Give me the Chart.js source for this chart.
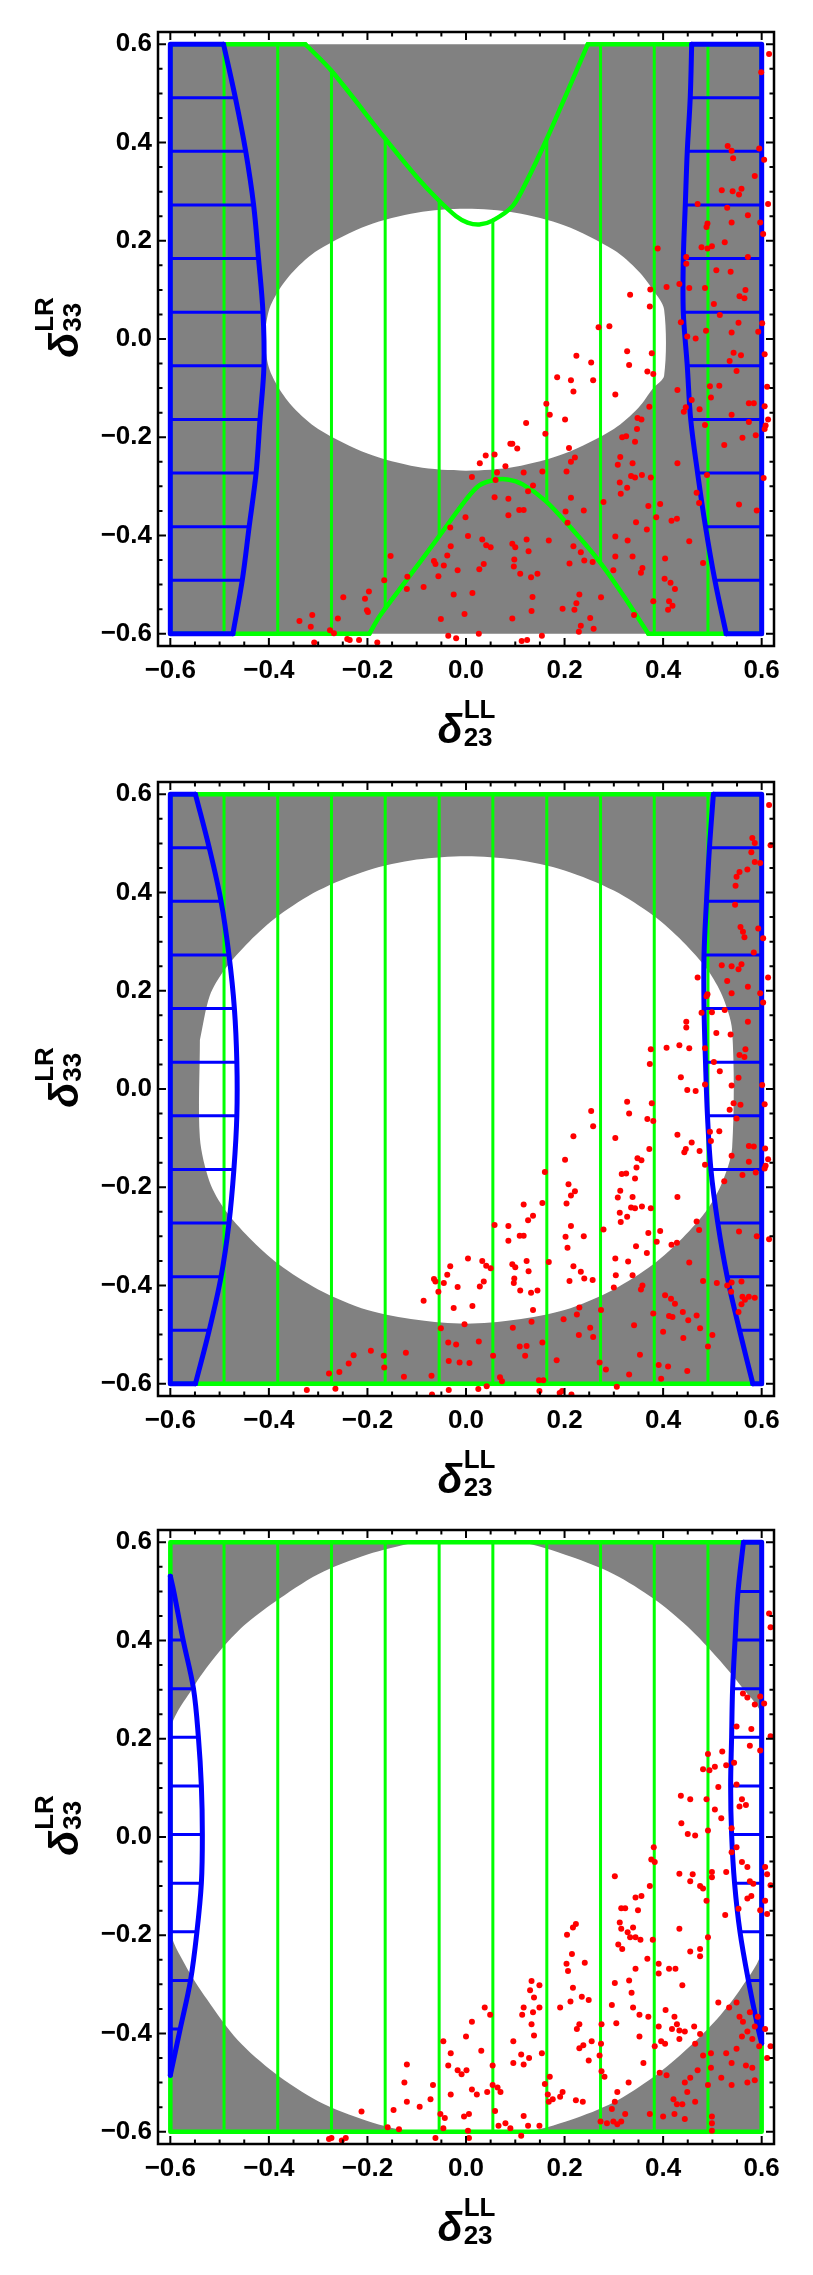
<!DOCTYPE html>
<html>
<head>
<meta charset="utf-8">
<script src="https://cdn.jsdelivr.net/npm/chart.js@4.4.0/dist/chart.umd.min.js"></script>
<style>
html, body { margin: 0; padding: 0; background: #fff; }
canvas { display: block; }
</style>
</head>
<body>
<canvas id="c1" width="813" height="750"></canvas>
<canvas id="c2" width="813" height="748"></canvas>
<canvas id="c3" width="813" height="777"></canvas>
<script>
// tick labels (both axes)
const xTicks = [-0.6, -0.4, -0.2, 0, 0.2, 0.4, 0.6];
const yTicks = [-0.6, -0.4, -0.2, 0, 0.2, 0.4, 0.6];

// mesh lines of the green region (x positions)
const meshX = [-0.491, -0.382, -0.273, -0.164, -0.0545, 0.0545, 0.164, 0.273, 0.382, 0.491];

const square = [[-0.6, -0.6], [-0.6, 0.6], [0.6, 0.6], [0.6, -0.6], [-0.6, -0.6]];

// ---------- panel 1 ----------
const p1MeshTop = [0.6, 0.6, 0.546, 0.408, 0.282, 0.243, 0.403, 0.6, 0.6, 0.6];
const p1MeshBot = [-0.6, -0.6, -0.6, -0.545, -0.402, -0.286, -0.331, -0.455, -0.6, -0.6];
const p1GreenV = [[-0.326, 0.6], [-0.273, 0.546], [-0.164, 0.408], [-0.1, 0.33], [-0.057, 0.284],
    [-0.02, 0.25], [0.003, 0.237], [0.027, 0.233], [0.054, 0.241], [0.095, 0.271], [0.125, 0.325], [0.162, 0.403],
    [0.2, 0.49], [0.247, 0.6]];
const p1GreenA = [[0.37, -0.6], [0.318, -0.52], [0.27, -0.452], [0.216, -0.388], [0.162, -0.33], [0.115, -0.296],
    [0.084, -0.286], [0.058, -0.287], [0.027, -0.298], [0.0, -0.327], [-0.057, -0.405], [-0.12, -0.49],
    [-0.175, -0.564], [-0.196, -0.6]];
const p1GreenEdges = [[-0.6, 0.6, -0.326, 0.6], [0.247, 0.6, 0.6, 0.6], [0.6, 0.6, 0.6, -0.6],
    [0.6, -0.6, 0.37, -0.6], [-0.196, -0.6, -0.6, -0.6], [-0.6, -0.6, -0.6, 0.6]];
const p1White = [[-0.41, 0], [-0.4, 0.058], [-0.38, 0.099], [-0.35, 0.138], [-0.3, 0.181], [-0.2, 0.231],
    [-0.1, 0.257], [0, 0.265], [0.1, 0.257], [0.2, 0.231], [0.3, 0.181], [0.35, 0.138], [0.38, 0.099],
    [0.402, 0.06], [0.402, -0.075], [0.38, -0.1], [0.35, -0.14], [0.3, -0.183], [0.2, -0.233], [0.1, -0.26],
    [0, -0.268], [-0.1, -0.26], [-0.2, -0.233], [-0.3, -0.183], [-0.35, -0.14], [-0.38, -0.1], [-0.4, -0.058],
    [-0.41, 0]];
const p1BlueL = [[-0.492, 0.6], [-0.468, 0.491], [-0.447, 0.382], [-0.431, 0.273], [-0.421, 0.164],
    [-0.412, 0.0545], [-0.41, -0.0545], [-0.418, -0.164], [-0.426, -0.273], [-0.44, -0.382], [-0.454, -0.491],
    [-0.473, -0.6]];
const p1BlueR = [[0.458, 0.6], [0.455, 0.491], [0.449, 0.382], [0.445, 0.273], [0.441, 0.164],
    [0.441, 0.0545], [0.449, -0.0545], [0.456, -0.164], [0.47, -0.273], [0.486, -0.382], [0.505, -0.491],
    [0.528, -0.6]];
const p1Pts = [
    [-0.338, -0.574], [-0.315, -0.586], [-0.312, -0.562], [-0.308, -0.618], [-0.276, -0.593], [-0.268, -0.599],
    [-0.26, -0.569], [-0.249, -0.526], [-0.241, -0.611], [-0.236, -0.613], [-0.217, -0.613], [-0.205, -0.529],
    [-0.197, -0.514], [-0.201, -0.552], [-0.199, -0.556], [-0.18, -0.618],
    [0.615, 0.58], [0.599, 0.543], [0.531, 0.393], [0.539, 0.383], [0.542, 0.368], [0.595, 0.388], [0.605, 0.365],
    [0.586, 0.332],
    [0.519, 0.303], [0.541, 0.301], [0.554, 0.294], [0.559, 0.306], [0.47, 0.275], [0.53, 0.267], [0.572, 0.252],
    [0.613, 0.275], [0.49, 0.235], [0.488, 0.228], [0.539, 0.237], [0.597, 0.237], [0.603, 0.214], [0.525, 0.197],
    [0.478, 0.187], [0.49, 0.184], [0.499, 0.189], [0.572, 0.167], [0.389, 0.184], [0.447, 0.167], [0.447, 0.153],
    [0.508, 0.14], [0.537, 0.137], [0.407, 0.106], [0.433, 0.112], [0.453, 0.104], [0.485, 0.104], [0.567, 0.1],
    [0.555, 0.087], [0.565, 0.083], [0.503, 0.071], [0.515, 0.049], [0.436, 0.034], [0.553, 0.033], [0.601, 0.032],
    [0.593, 0.015], [0.539, 0.013], [0.487, 0.017], [0.449, 0.005], [0.466, 0.001], [0.543, -0.028], [0.558, -0.033],
    [0.606, -0.031], [0.535, -0.045], [0.549, -0.065], [0.429, -0.104], [0.495, -0.096], [0.514, -0.095],
    [0.497, -0.119], [0.458, -0.124], [0.446, -0.139], [0.442, -0.148], [0.474, -0.143], [0.574, -0.131],
    [0.584, -0.131], [0.606, -0.137], [0.613, -0.164], [0.539, -0.154], [0.574, -0.169], [0.485, -0.175],
    [0.608, -0.176], [0.606, -0.183], [0.588, -0.196], [0.561, -0.201], [0.524, -0.216], [0.429, -0.253],
    [0.489, -0.277], [0.604, -0.283], [0.468, -0.313], [0.473, -0.334], [0.554, -0.337], [0.59, -0.349],
    [0.453, -0.412], [0.481, -0.456], [0.611, -0.097],
    [0.333, 0.09], [0.374, 0.101], [0.373, 0.066], [0.269, 0.024], [0.291, 0.026], [0.327, -0.025], [0.331, -0.053],
    [0.377, -0.029], [0.254, -0.048], [0.224, -0.034], [0.213, -0.084], [0.258, -0.084], [0.185, -0.078],
    [0.218, -0.107], [0.303, -0.113], [0.368, -0.066], [0.38, -0.071], [0.163, -0.132], [0.17, -0.154],
    [0.201, -0.164], [0.122, -0.171], [0.161, -0.193], [0.372, -0.138], [0.348, -0.161], [0.356, -0.164],
    [0.347, -0.183], [0.317, -0.2], [0.325, -0.198], [0.343, -0.209], [0.209, -0.222], [0.221, -0.241],
    [0.213, -0.25], [0.09, -0.213], [0.094, -0.213], [0.104, -0.223], [0.04, -0.237], [0.058, -0.235],
    [0.028, -0.253], [0.08, -0.259], [0.313, -0.24], [0.308, -0.256], [0.338, -0.253], [0.204, -0.27],
    [0.155, -0.27], [0.117, -0.272], [0.063, -0.272], [0.012, -0.281], [0.06, -0.287], [0.335, -0.279],
    [0.343, -0.282], [0.357, -0.277], [0.375, -0.282], [0.312, -0.292], [0.327, -0.303], [0.314, -0.315],
    [0.136, -0.298], [0.126, -0.31], [0.213, -0.323], [0.058, -0.322], [0.086, -0.325], [0.279, -0.332],
    [0.37, -0.34], [0.394, -0.336], [0.202, -0.351], [0.239, -0.349], [0.108, -0.348], [0.117, -0.348],
    [0.086, -0.359], [0.206, -0.374], [0.386, -0.363], [0.417, -0.37], [0.428, -0.366], [0.345, -0.373],
    [0.367, -0.388], [-0.001, -0.363], [-0.032, -0.384], [0.004, -0.401], [0.033, -0.408], [0.041, -0.42],
    [0.05, -0.424], [-0.031, -0.422], [0.094, -0.417], [0.1, -0.424], [0.123, -0.408], [0.168, -0.41],
    [0.218, -0.422], [0.233, -0.434], [0.127, -0.432], [0.303, -0.402], [0.328, -0.41], [-0.038, -0.441],
    [0.098, -0.449], [0.097, -0.463], [0.24, -0.451], [0.257, -0.454], [0.21, -0.457], [0.303, -0.443],
    [0.338, -0.443], [0.404, -0.447], [-0.065, -0.452], [-0.062, -0.458], [-0.045, -0.461], [0.036, -0.458],
    [-0.017, -0.471], [0.027, -0.469], [0.11, -0.478], [0.132, -0.485], [0.145, -0.478], [0.299, -0.471],
    [0.355, -0.476], [0.358, -0.466], [-0.056, -0.483], [-0.119, -0.484], [-0.166, -0.491], [-0.153, -0.442],
    [-0.12, -0.509], [-0.086, -0.505], [0.403, -0.488], [0.415, -0.496], [0.424, -0.509], [-0.025, -0.52],
    [0.013, -0.517], [0.135, -0.525], [0.23, -0.52], [0.274, -0.526], [0.412, -0.534], [0.38, -0.534],
    [0.419, -0.543], [0.41, -0.551], [0.224, -0.538], [0.22, -0.551], [0.196, -0.549], [0.133, -0.554],
    [-0.003, -0.56], [-0.051, -0.57], [0.094, -0.569], [0.252, -0.568], [0.341, -0.562], [0.233, -0.584],
    [0.229, -0.596], [0.259, -0.59], [-0.036, -0.604], [-0.02, -0.609], [0.026, -0.6], [0.113, -0.615],
    [0.124, -0.613], [0.154, -0.604]
];

// ---------- panel 2 ----------
const p2MeshTop = [0.6, 0.6, 0.6, 0.6, 0.6, 0.6, 0.6, 0.6, 0.6, 0.6];
const p2MeshBot = [-0.6, -0.6, -0.6, -0.6, -0.6, -0.6, -0.6, -0.6, -0.6, -0.6];
const p2White = [[-0.54, 0.1], [-0.52, 0.19], [-0.49, 0.243], [-0.44, 0.3], [-0.38, 0.353], [-0.3, 0.404],
    [-0.2, 0.445], [-0.1, 0.467], [0, 0.474], [0.1, 0.467], [0.2, 0.445], [0.3, 0.404], [0.38, 0.353],
    [0.44, 0.3], [0.49, 0.243], [0.52, 0.19], [0.54, 0.12], [0.54, -0.12], [0.52, -0.19], [0.49, -0.245],
    [0.44, -0.303], [0.38, -0.357], [0.3, -0.408], [0.2, -0.45], [0.1, -0.47], [0, -0.478], [-0.1, -0.47],
    [-0.2, -0.45], [-0.3, -0.408], [-0.38, -0.357], [-0.44, -0.303], [-0.49, -0.245], [-0.52, -0.19],
    [-0.54, -0.1], [-0.54, 0.1]];
const p2BlueL = [[-0.549, 0.6], [-0.521, 0.491], [-0.497, 0.382], [-0.481, 0.273], [-0.47, 0.164],
    [-0.465, 0.0545], [-0.465, -0.0545], [-0.471, -0.164], [-0.481, -0.273], [-0.497, -0.382], [-0.521, -0.491],
    [-0.549, -0.6]];
const p2BlueR = [[0.502, 0.6], [0.494, 0.491], [0.488, 0.382], [0.483, 0.273], [0.483, 0.164],
    [0.486, 0.0545], [0.49, -0.0545], [0.497, -0.164], [0.511, -0.273], [0.53, -0.382], [0.555, -0.491],
    [0.582, -0.6]];
const p2Pts = [
    [-0.278, -0.579], [-0.257, -0.576], [-0.265, -0.61], [-0.238, -0.559], [-0.228, -0.542], [-0.323, -0.613],
    [-0.193, -0.533],
    [0.615, 0.578], [0.581, 0.511], [0.586, 0.501], [0.618, 0.496], [0.579, 0.482], [0.586, 0.462], [0.555, 0.442],
    [0.571, 0.447], [0.597, 0.46], [0.549, 0.432], [0.547, 0.414],
    [0.546, 0.375], [0.557, 0.33], [0.562, 0.32], [0.565, 0.309], [0.593, 0.327], [0.603, 0.307], [0.584, 0.278],
    [0.519, 0.252], [0.539, 0.25], [0.553, 0.244], [0.559, 0.254], [0.53, 0.22], [0.572, 0.208], [0.539, 0.195],
    [0.597, 0.195], [0.603, 0.176], [0.613, 0.227], [0.47, 0.227], [0.49, 0.193], [0.488, 0.189], [0.478, 0.155],
    [0.499, 0.156], [0.525, 0.161], [0.572, 0.137], [0.447, 0.137], [0.447, 0.125], [0.508, 0.114], [0.537, 0.111],
    [0.407, 0.084], [0.433, 0.089], [0.453, 0.083], [0.485, 0.083], [0.567, 0.081], [0.555, 0.069], [0.565, 0.065],
    [0.375, 0.081], [0.373, 0.051], [0.503, 0.055], [0.515, 0.036], [0.436, 0.024], [0.449, -0.002], [0.466, -0.004],
    [0.485, 0.009], [0.539, 0.007], [0.553, 0.023], [0.601, 0.008], [0.606, -0.031], [0.543, -0.029], [0.557, -0.032],
    [0.535, -0.042], [0.549, -0.06], [0.368, -0.061], [0.38, -0.065], [0.377, -0.029], [0.327, -0.026], [0.331, -0.05],
    [0.254, -0.045], [0.258, -0.076], [0.218, -0.096], [0.303, -0.1], [0.201, -0.144], [0.429, -0.093], [0.495, -0.087],
    [0.514, -0.086], [0.497, -0.106], [0.458, -0.109], [0.446, -0.122], [0.443, -0.129], [0.474, -0.126],
    [0.574, -0.116], [0.584, -0.117], [0.607, -0.121], [0.613, -0.143], [0.539, -0.136], [0.574, -0.148],
    [0.485, -0.154], [0.608, -0.156], [0.606, -0.162], [0.588, -0.17], [0.561, -0.175], [0.524, -0.188],
    [0.372, -0.122], [0.348, -0.141], [0.356, -0.145], [0.346, -0.16], [0.316, -0.173], [0.325, -0.172],
    [0.343, -0.182], [0.208, -0.194], [0.221, -0.208], [0.213, -0.217], [0.16, -0.169], [0.313, -0.207],
    [0.308, -0.221], [0.338, -0.22], [0.204, -0.233], [0.155, -0.232], [0.117, -0.235], [0.335, -0.241],
    [0.343, -0.243], [0.357, -0.239], [0.375, -0.243], [0.312, -0.252], [0.327, -0.26], [0.314, -0.271],
    [0.136, -0.258], [0.126, -0.267], [0.213, -0.279], [0.058, -0.277], [0.086, -0.279], [0.279, -0.286],
    [0.37, -0.293], [0.394, -0.289], [0.202, -0.301], [0.239, -0.3], [0.109, -0.299], [0.117, -0.299],
    [0.086, -0.309], [0.206, -0.323], [0.387, -0.311], [0.417, -0.317], [0.428, -0.313], [0.345, -0.32],
    [0.367, -0.334], [0.429, -0.22], [0.468, -0.27], [0.473, -0.287], [0.554, -0.29], [0.59, -0.3],
    [0.004, -0.345], [0.033, -0.35], [0.041, -0.36], [0.05, -0.365], [-0.032, -0.361], [-0.038, -0.378],
    [0.094, -0.357], [0.1, -0.363], [0.123, -0.35], [0.168, -0.352], [0.218, -0.361], [0.233, -0.372],
    [0.127, -0.371], [0.303, -0.345], [0.329, -0.351], [0.098, -0.386], [0.097, -0.395], [0.24, -0.386],
    [0.257, -0.389], [0.21, -0.391], [0.304, -0.379], [0.338, -0.379], [-0.065, -0.387], [-0.062, -0.392],
    [-0.045, -0.395], [0.036, -0.392], [-0.017, -0.403], [0.028, -0.402], [0.11, -0.41], [0.132, -0.415],
    [0.145, -0.41], [0.3, -0.404], [0.355, -0.408], [0.358, -0.4], [-0.056, -0.413], [-0.086, -0.431],
    [-0.025, -0.446], [0.013, -0.442], [0.136, -0.45], [0.23, -0.445], [0.274, -0.45], [0.453, -0.353],
    [0.481, -0.391], [0.509, -0.395], [0.53, -0.4], [0.539, -0.394], [0.559, -0.392], [0.538, -0.413],
    [0.561, -0.423], [0.566, -0.429], [0.574, -0.423], [0.586, -0.425], [0.559, -0.438], [0.553, -0.454],
    [0.404, -0.42], [0.416, -0.427], [0.424, -0.437], [0.44, -0.454], [0.451, -0.471], [0.468, -0.461],
    [0.475, -0.487], [0.412, -0.462], [0.419, -0.464], [0.38, -0.457], [0.341, -0.481], [0.441, -0.507],
    [0.4, -0.494], [0.353, -0.541], [0.5, -0.501], [0.491, -0.524], [0.252, -0.486], [0.258, -0.505],
    [0.229, -0.501], [0.225, -0.459], [0.198, -0.469], [0.133, -0.474], [0.095, -0.486], [0.026, -0.514],
    [-0.003, -0.479], [-0.036, -0.516], [-0.02, -0.52], [-0.051, -0.487], [-0.035, -0.554], [-0.013, -0.557],
    [0.007, -0.558], [0.055, -0.543], [0.109, -0.524], [0.123, -0.523], [0.12, -0.543], [0.155, -0.516],
    [0.184, -0.552], [0.271, -0.557], [0.284, -0.571], [0.331, -0.581], [0.391, -0.562], [0.41, -0.565],
    [0.449, -0.574], [0.396, -0.59], [0.306, -0.606], [0.069, -0.587], [0.073, -0.595], [0.148, -0.593],
    [0.157, -0.593], [0.149, -0.615], [-0.07, -0.584], [-0.126, -0.586], [-0.122, -0.537], [-0.167, -0.543],
    [-0.166, -0.567], [-0.069, -0.622], [-0.035, -0.613], [0.025, -0.611], [0.042, -0.605], [0.19, -0.619],
    [0.195, -0.615], [0.214, -0.622], [0.615, -0.306]
];

// ---------- panel 3 ----------
const p3MeshTop = [0.6, 0.6, 0.6, 0.6, 0.6, 0.6, 0.6, 0.6, 0.6, 0.6];
const p3MeshBot = [-0.6, -0.6, -0.6, -0.6, -0.6, -0.6, -0.6, -0.6, -0.6, -0.6];
const p3White = [[-0.104, 0.6], [0.106, 0.6], [0.212, 0.571], [0.3, 0.535], [0.381, 0.485], [0.45, 0.428],
    [0.51, 0.365], [0.56, 0.305], [0.6, 0.245], [0.6, -0.229], [0.56, -0.305], [0.51, -0.37], [0.45, -0.43],
    [0.381, -0.488], [0.3, -0.54], [0.212, -0.576], [0.117, -0.6], [-0.104, -0.6], [-0.2, -0.578],
    [-0.3, -0.538], [-0.389, -0.48], [-0.463, -0.414], [-0.526, -0.33], [-0.57, -0.26], [-0.6, -0.189],
    [-0.6, 0.215], [-0.55, 0.31], [-0.5, 0.378], [-0.45, 0.431], [-0.389, 0.478], [-0.3, 0.535],
    [-0.2, 0.575], [-0.104, 0.6]];
const p3BlueL = [[-0.6, 0.531], [-0.593, 0.5], [-0.574, 0.401], [-0.553, 0.302], [-0.543, 0.203], [-0.537, 0.104],
    [-0.535, 0.005], [-0.537, -0.094], [-0.546, -0.193], [-0.559, -0.292], [-0.58, -0.391], [-0.6, -0.485]];
const p3BlueR = [[0.563, 0.6], [0.552, 0.5], [0.546, 0.401], [0.541, 0.302], [0.539, 0.203],
    [0.537, 0.104], [0.539, 0.005], [0.545, -0.094], [0.556, -0.193], [0.573, -0.292], [0.593, -0.391],
    [0.6, -0.42]];
const p3Pts = [
    [0.615, 0.455], [0.618, 0.427], [0.562, 0.292], [0.571, 0.284], [0.586, 0.27], [0.597, 0.286], [0.579, 0.22],
    [0.549, 0.225], [0.605, 0.272], [0.618, 0.205], [0.597, 0.176], [0.576, 0.186], [0.52, 0.174], [0.491, 0.169],
    [0.494, 0.136], [0.481, 0.138], [0.505, 0.143], [0.512, 0.102], [0.505, 0.056], [0.518, 0.038], [0.488, 0.077],
    [0.436, 0.084], [0.455, 0.077], [0.437, 0.028], [0.45, 0.006], [0.465, 0.003], [0.491, 0.013], [0.549, 0.107],
    [0.56, 0.077], [0.568, 0.065], [0.555, 0.062], [0.528, 0.146], [0.544, 0.151], [0.539, 0.018], [0.549, -0.021],
    [0.539, -0.031], [0.56, -0.051], [0.571, -0.061], [0.607, -0.061], [0.611, -0.076], [0.618, -0.098],
    [0.576, -0.09], [0.583, -0.095], [0.579, -0.12], [0.553, -0.146], [0.571, -0.125], [0.597, -0.149],
    [0.607, -0.13], [0.611, -0.157], [0.528, -0.071], [0.499, -0.071], [0.499, -0.082], [0.481, -0.105],
    [0.488, -0.13], [0.475, -0.1], [0.46, -0.076], [0.433, -0.075], [0.455, -0.09], [0.526, -0.159],
    [0.491, -0.204], [0.433, -0.187], [0.475, -0.228], [0.475, -0.243], [0.425, -0.268], [0.412, -0.268],
    [0.391, -0.278], [0.379, -0.209], [0.373, -0.1], [0.376, -0.046], [0.381, -0.021], [0.383, -0.051],
    [0.368, -0.248], [0.354, -0.209], [0.344, -0.204], [0.333, -0.204], [0.328, -0.194], [0.339, -0.184],
    [0.356, -0.12], [0.344, -0.123], [0.349, -0.149], [0.323, -0.145], [0.315, -0.145], [0.312, -0.174],
    [0.315, -0.187], [0.309, -0.219], [0.317, -0.228], [0.302, -0.08], [0.344, -0.268], [0.37, -0.366],
    [0.383, -0.426], [0.352, -0.362], [0.339, -0.347], [0.336, -0.317], [0.302, -0.297], [0.296, -0.342],
    [0.331, -0.292], [0.352, -0.406], [0.391, -0.386], [0.391, -0.258], [0.439, -0.302], [0.455, -0.233],
    [0.405, -0.352], [0.423, -0.366], [0.428, -0.381], [0.418, -0.391], [0.433, -0.394], [0.444, -0.396],
    [0.396, -0.416], [0.404, -0.421], [0.433, -0.411], [0.463, -0.386], [0.475, -0.401], [0.465, -0.421],
    [0.481, -0.445], [0.512, -0.337], [0.534, -0.347], [0.549, -0.337], [0.555, -0.366], [0.562, -0.376],
    [0.576, -0.357], [0.571, -0.396], [0.586, -0.386], [0.56, -0.406], [0.581, -0.411], [0.592, -0.366],
    [0.595, -0.426], [0.607, -0.391], [0.618, -0.426], [0.611, -0.45], [0.549, -0.431], [0.539, -0.46],
    [0.528, -0.44], [0.518, -0.49], [0.497, -0.44], [0.497, -0.47], [0.491, -0.505], [0.499, -0.569],
    [0.499, -0.583], [0.499, -0.598], [0.47, -0.475], [0.449, -0.519], [0.444, -0.5], [0.455, -0.49],
    [0.465, -0.539], [0.439, -0.544], [0.428, -0.544], [0.421, -0.534], [0.423, -0.564], [0.444, -0.574],
    [0.407, -0.485], [0.393, -0.48], [0.4, -0.569], [0.373, -0.564], [0.539, -0.505], [0.571, -0.5],
    [0.581, -0.47], [0.586, -0.495], [0.568, -0.465],
    [0.205, -0.199], [0.217, -0.184], [0.223, -0.177], [0.204, -0.258], [0.207, -0.273], [0.215, -0.238],
    [0.241, -0.256], [0.217, -0.307], [0.212, -0.335], [0.235, -0.325], [0.249, -0.332], [0.23, -0.381],
    [0.225, -0.391], [0.23, -0.43], [0.238, -0.424], [0.255, -0.416], [0.274, -0.421], [0.271, -0.445],
    [0.275, -0.381], [0.249, -0.455], [0.223, -0.536], [0.237, -0.539], [0.275, -0.477], [0.281, -0.488],
    [0.273, -0.579], [0.286, -0.583], [0.296, -0.554], [0.302, -0.539], [0.307, -0.519], [0.299, -0.579],
    [0.307, -0.585], [0.315, -0.579], [0.323, -0.564], [0.33, -0.5], [0.36, -0.46], [0.305, -0.379],
    [0.191, -0.347], [0.149, -0.302], [0.133, -0.293], [0.13, -0.312], [0.138, -0.327], [0.136, -0.357],
    [0.133, -0.381], [0.138, -0.404], [0.117, -0.347], [0.114, -0.362], [0.149, -0.347], [0.096, -0.416],
    [0.096, -0.46], [0.112, -0.443], [0.117, -0.463], [0.128, -0.45], [0.154, -0.44], [0.16, -0.503],
    [0.166, -0.524], [0.168, -0.539], [0.176, -0.534], [0.191, -0.529], [0.196, -0.519], [0.17, -0.488],
    [0.117, -0.568], [0.126, -0.588], [0.149, -0.588], [0.112, -0.608], [0.049, -0.362], [0.038, -0.347],
    [0.012, -0.376], [0.031, -0.435], [0.0, -0.406], [0.001, -0.475], [0.012, -0.514], [0.022, -0.524],
    [0.043, -0.519], [0.054, -0.465], [0.054, -0.505], [0.064, -0.51], [0.07, -0.519], [0.059, -0.558],
    [0.066, -0.588], [0.08, -0.583], [0.09, -0.593], [0.006, -0.564], [-0.004, -0.569], [0.004, -0.598],
    [0.006, -0.613], [-0.009, -0.483], [-0.017, -0.475], [-0.031, -0.44], [-0.036, -0.465], [-0.031, -0.524],
    [-0.046, -0.416], [-0.052, -0.564], [-0.043, -0.572], [-0.046, -0.593], [-0.067, -0.505], [-0.072, -0.534],
    [-0.094, -0.549], [-0.062, -0.613], [-0.12, -0.463], [-0.125, -0.5], [-0.12, -0.539], [-0.147, -0.556],
    [-0.136, -0.595], [-0.159, -0.591], [-0.212, -0.559], [-0.244, -0.613], [-0.252, -0.618], [-0.273, -0.613],
    [-0.278, -0.615]
];

const squareEdges = [[-0.6, 0.6, 0.6, 0.6], [0.6, 0.6, 0.6, -0.6], [0.6, -0.6, -0.6, -0.6], [-0.6, -0.6, -0.6, 0.6]];

const FONT = '"Liberation Sans", Arial, sans-serif';

function pts(arr) {
    return arr.map(p => ({ x: p[0], y: p[1] }));
}

// list of [x1, y1, x2, y2] -> one broken line
function segs(list) {
    const out = [];
    list.forEach(s => {
        out.push({ x: s[0], y: s[1] }, { x: s[2], y: s[3] }, { x: s[2], y: null });
    });
    return out;
}

// straight sides of a blue region: from the curve ends out to the square edge
function blueEdges(curve, edge) {
    const a = curve[0], b = curve[curve.length - 1];
    return [[b[0], b[1], edge, b[1]], [edge, b[1], edge, a[1]], [edge, a[1], a[0], a[1]]];
}

// hatch lines of a blue region: from the square edge to each inner curve point
function hatchSegs(curve, edge) {
    const list = [];
    curve.forEach(p => {
        if (Math.abs(p[0]) < 0.6 && Math.abs(p[1]) < 0.6) {
            list.push([edge, p[1], p[0], p[1]]);
        }
    });
    return list;
}

function fmt(v) {
    return (v < 0 ? '\u2212' : '') + Math.abs(v).toFixed(1);
}

function drawDelta(ctx, cx, baseY, sup, sub) {
    ctx.textAlign = 'left';
    ctx.textBaseline = 'alphabetic';
    ctx.fillStyle = '#000';
    ctx.font = 'italic bold 41px ' + FONT;
    const wd = ctx.measureText('\u03b4').width;
    ctx.font = 'bold 26px ' + FONT;
    const ws = Math.max(ctx.measureText(sup).width, ctx.measureText(sub).width);
    const x0 = cx - (wd + ws) / 2;
    ctx.font = 'italic bold 41px ' + FONT;
    ctx.fillText('\u03b4', x0, baseY);
    ctx.font = 'bold 26px ' + FONT;
    ctx.fillText(sup, x0 + wd + 1, baseY - 25);
    ctx.fillText(sub, x0 + wd + 1, baseY + 3);
}

const framePlugin = {
    id: 'frame',
    afterDraw(chart) {
        const { ctx, chartArea: a, scales: { x, y } } = chart;
        ctx.save();
        ctx.strokeStyle = '#000';
        ctx.lineWidth = 2.5;
        ctx.strokeRect(a.left, a.top, a.right - a.left, a.bottom - a.top);
        ctx.lineWidth = 2;
        for (let i = -12; i <= 12; i++) {
            const v = i * 0.05;
            const len = i % 4 === 0 ? 8 : 4.5;
            const px = x.getPixelForValue(v);
            const py = y.getPixelForValue(v);
            ctx.beginPath();
            ctx.moveTo(px, a.bottom); ctx.lineTo(px, a.bottom - len);
            ctx.moveTo(px, a.top); ctx.lineTo(px, a.top + len);
            ctx.moveTo(a.left, py); ctx.lineTo(a.left + len, py);
            ctx.moveTo(a.right, py); ctx.lineTo(a.right - len, py);
            ctx.stroke();
        }
        drawDelta(ctx, (a.left + a.right) / 2, a.bottom + 97, 'LL', '23');
        ctx.translate(78, a.top + 296);
        ctx.rotate(-Math.PI / 2);
        drawDelta(ctx, 0, 0, 'LR', '33');
        ctx.restore();
    }
};

function lineSet(data, color, width, order, tension) {
    return {
        type: 'line', data, borderColor: color, borderWidth: width,
        pointRadius: 0, fill: false, tension: tension || 0, order,
        borderCapStyle: 'round', borderJoinStyle: 'round'
    };
}

function fillSet(data, color, order, tension) {
    return {
        type: 'line', data, borderColor: 'rgba(0,0,0,0)', borderWidth: 1,
        backgroundColor: color, pointRadius: 0, fill: 'shape', tension: tension || 0, order
    };
}

function makePanel(id, H, d) {
    const mesh = meshX.map((x, i) => [x, d.top[i], x, d.bot[i]]);
    const hatch = hatchSegs(d.blueL, -0.6).concat(hatchSegs(d.blueR, 0.6));
    const bEdges = blueEdges(d.blueL, -0.6).concat(blueEdges(d.blueR, 0.6));
    const sets = [
        {
            type: 'scatter', data: pts(d.pts), pointRadius: 3, pointHoverRadius: 3,
            backgroundColor: '#ff0000', borderWidth: 0, order: 0
        },
        lineSet(segs(hatch), '#0000ff', 3, 1),
        lineSet(pts(d.blueL), '#0000ff', 5, 1, 0.35),
        lineSet(pts(d.blueR), '#0000ff', 5, 1, 0.35),
        lineSet(segs(bEdges), '#0000ff', 5, 1),
        lineSet(segs(mesh), '#00ff00', 3, 2),
        lineSet(segs(d.greenEdges), '#00ff00', 4.5, 2)
    ];
    d.greenCurves.forEach(c => sets.push(lineSet(pts(c), '#00ff00', 4.5, 2, 0.3)));
    sets.push(fillSet(pts(d.white), '#ffffff', 3, 0.3));
    sets.push(fillSet(pts(square), '#818181', 4));

    new Chart(document.getElementById(id), {
        type: 'scatter',
        data: { datasets: sets },
        options: {
            responsive: false,
            animation: false,
            events: [],
            layout: { padding: { top: 32, right: 39, left: 0, bottom: 0 } },
            plugins: { legend: { display: false }, tooltip: { enabled: false } },
            scales: {
                x: {
                    type: 'linear', min: -0.625, max: 0.625,
                    grid: { display: false, drawTicks: false },
                    border: { display: false },
                    afterFit: (s) => { s.height = H - 646; },
                    afterBuildTicks: (s) => { s.ticks = xTicks.map(v => ({ value: v })); },
                    ticks: {
                        padding: 9, color: '#000', maxRotation: 0, autoSkip: false,
                        font: { family: FONT, weight: 'bold', size: 26 },
                        callback: fmt
                    }
                },
                y: {
                    type: 'linear', min: -0.625, max: 0.625,
                    grid: { display: false, drawTicks: false },
                    border: { display: false },
                    afterFit: (s) => { s.width = 158; },
                    afterBuildTicks: (s) => { s.ticks = yTicks.map(v => ({ value: v })); },
                    ticks: {
                        padding: 6, color: '#000', autoSkip: false,
                        font: { family: FONT, weight: 'bold', size: 26 },
                        callback: fmt
                    }
                }
            }
        },
        plugins: [framePlugin]
    });
}

makePanel('c1', 750, {
    pts: p1Pts, white: p1White, greenCurves: [p1GreenV, p1GreenA], greenEdges: p1GreenEdges,
    top: p1MeshTop, bot: p1MeshBot, blueL: p1BlueL, blueR: p1BlueR
});
makePanel('c2', 748, {
    pts: p2Pts, white: p2White, greenCurves: [], greenEdges: squareEdges,
    top: p2MeshTop, bot: p2MeshBot, blueL: p2BlueL, blueR: p2BlueR
});
makePanel('c3', 777, {
    pts: p3Pts, white: p3White, greenCurves: [], greenEdges: squareEdges,
    top: p3MeshTop, bot: p3MeshBot, blueL: p3BlueL, blueR: p3BlueR
});
</script>
</body>
</html>
